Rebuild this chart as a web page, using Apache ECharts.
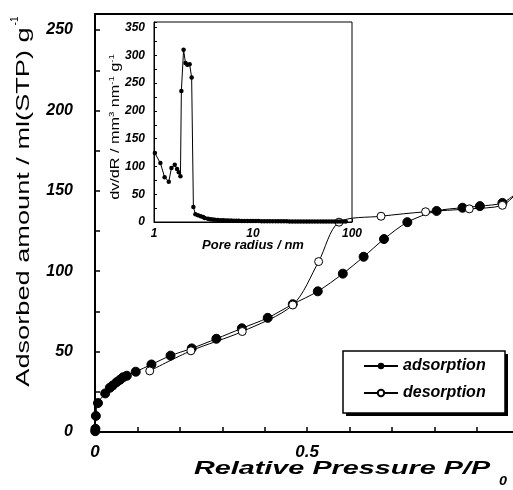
<!DOCTYPE html>
<html>
<head>
<meta charset="utf-8">
<script src="https://cdn.jsdelivr.net/npm/echarts@6/dist/echarts.min.js"></script>
<style>
  html, body { margin: 0; padding: 0; background: #fff; }
  #chart { width: 513px; height: 490px; }
</style>
</head>
<body>
<div id="chart"></div>
<script>
// isotherm (main plot)
var adsP = [0.0005, 0.001, 0.002, 0.007, 0.024, 0.035, 0.042, 0.051, 0.059, 0.066, 0.075, 0.096, 0.133, 0.178, 0.228, 0.286, 0.346, 0.407, 0.466, 0.525, 0.584, 0.633, 0.681, 0.736, 0.805, 0.866, 0.907, 0.960, 0.995];
var adsV = [0.5, 2, 10, 18, 24, 27.5, 29, 31, 32.5, 34, 35, 37.5, 42, 47.5, 52, 58, 64.5, 71, 79.5, 87.5, 98.5, 109, 120, 130.5, 137.5, 139.5, 140.5, 142.5, 149];
var desP = [0.129, 0.226, 0.347, 0.466, 0.527, 0.575, 0.674, 0.779, 0.882, 0.960, 0.995];
var desV = [38, 50.5, 62.5, 79, 106, 130.5, 134.2, 137, 138.8, 141, 149];

// pore size distribution (inset)
var poreR = [1.02, 1.16, 1.28, 1.41, 1.50, 1.62, 1.71, 1.78, 1.85, 1.89, 1.99, 2.08, 2.17, 2.29, 2.40, 2.50, 2.62, 2.78, 2.96, 3.13, 3.25, 3.51,
  3.7, 3.9, 4.1, 4.4, 4.7, 5.0, 5.3, 5.6, 6.0, 6.4, 6.8, 7.2, 7.7, 8.2, 8.8, 9.4, 10.0, 10.7, 11.4, 12.2, 13.0, 13.9, 14.8, 15.8, 16.9,
  18.0, 19.2, 20.5, 21.9, 23.4, 25.0, 26.7, 28.5, 30.4, 32.5, 34.7, 37.0, 39.5, 42.2, 45.0, 48.1, 51.3, 54.8, 58.5, 62.4, 66.6, 71.1, 75.9, 81.0, 86.5];
var dvdR = [124, 106, 80.6, 72.6, 97, 103, 95.6, 89.6, 82.4, 236, 310, 286, 283, 284, 260, 27, 14, 12, 10.4, 9, 7, 6,
  5, 4.5, 4, 3.6, 3.3, 3, 2.8, 2.6, 2.5, 2.3, 2.2, 2.1, 2, 1.9, 1.8, 1.8, 1.7, 1.6, 1.6, 1.5, 1.5, 1.4, 1.4, 1.3, 1.3,
  1.3, 1.2, 1.2, 1.2, 1.1, 1.1, 1.1, 1.0, 1.0, 1.0, 1.0, 0.9, 0.9, 0.9, 0.9, 0.8, 0.8, 0.8, 0.8, 0.8, 0.7, 0.7, 0.7, 0.7, 0.7];

var xLabels = ['0', '0.5'];
var FONT = 'Liberation Sans, Arial, sans-serif';

function pairs(xs, ys) {
  return xs.map(function (x, i) { return [x, ys[i]]; });
}

var myChart = echarts.init(document.getElementById('chart'), null, { renderer: 'canvas' });

var option = {
  animation: false,
  backgroundColor: '#fff',
  grid: [
    { left: 95, top: 14, right: 0, bottom: 58, outerBoundsMode: 'none' },
    { left: 154, top: 22, width: 198, height: 200, show: true, borderColor: '#000', borderWidth: 1, backgroundColor: 'transparent', outerBoundsMode: 'none' }
  ],
  xAxis: [
    { // main
      type: 'value', gridIndex: 0, min: 0, max: 0.985, interval: 0.1,
      axisLine: { lineStyle: { color: '#000', width: 2 } },
      axisTick: { inside: true, length: 5, lineStyle: { color: '#000', width: 1.5 } },
      splitLine: { show: false },
      axisLabel: {
        margin: 12, color: '#000', fontFamily: FONT, fontSize: 17, fontStyle: 'italic', fontWeight: 'bold',
        showMaxLabel: false,
        formatter: function (v) {
          for (var i = 0; i < xLabels.length; i++) {
            if (Math.abs(v - parseFloat(xLabels[i])) < 1e-6) return xLabels[i];
          }
          return '';
        }
      }
    },
    { // top frame line
      type: 'value', gridIndex: 0, position: 'top', min: 0, max: 0.985,
      axisLine: { lineStyle: { color: '#000', width: 2 } },
      axisTick: { show: false }, axisLabel: { show: false }, splitLine: { show: false }
    },
    { // inset
      type: 'log', gridIndex: 1, logBase: 10, min: 1, max: 100,
      axisLine: { lineStyle: { color: '#000', width: 1 } },
      axisTick: { inside: true, length: 3, lineStyle: { color: '#000' } },
      splitLine: { show: false },
      axisLabel: { margin: 6, color: '#000', fontFamily: FONT, fontSize: 12, fontStyle: 'italic', fontWeight: 'bold' }
    }
  ],
  yAxis: [
    {
      type: 'value', gridIndex: 0, min: 0, max: 260, interval: 25,
      axisLine: { show: true, lineStyle: { color: '#000', width: 2 } },
      axisTick: { show: true, inside: true, length: 5, lineStyle: { color: '#000', width: 1.5 } },
      splitLine: { show: false },
      axisLabel: {
        margin: 22, color: '#000', fontFamily: FONT, fontSize: 16, fontStyle: 'italic', fontWeight: 'bold',
        formatter: function (v) { return v % 50 === 0 ? String(v) : ''; }
      }
    },
    {
      type: 'value', gridIndex: 1, min: 0, max: 360, interval: 25,
      axisLine: { show: true, lineStyle: { color: '#000', width: 1 } },
      axisTick: { show: true, inside: true, length: 3, lineStyle: { color: '#000' } },
      splitLine: { show: false },
      axisLabel: {
        margin: 9, color: '#000', fontFamily: FONT, fontSize: 12, fontStyle: 'italic', fontWeight: 'bold',
        formatter: function (v) { return (v % 50 === 0 && v <= 350) ? String(v) : ''; }
      }
    }
  ],
  legend: {
    data: ['adsorption', 'desorption'],
    orient: 'vertical', left: 343, top: 351, z: 20,
    padding: [7, 16, 9, 20],
    itemGap: 11, itemWidth: 34, itemHeight: 8,
    textStyle: { color: '#000', fontFamily: FONT, fontSize: 16, fontStyle: 'italic', fontWeight: 'bold' }
  },
  series: [
    {
      name: 'adsorption', type: 'line', xAxisIndex: 0, yAxisIndex: 0,
      data: pairs(adsP, adsV), smooth: 0.3, clip: true,
      symbol: 'circle', symbolSize: 9,
      lineStyle: { color: '#000', width: 1 },
      itemStyle: { color: '#000', borderColor: '#000' }
    },
    {
      name: 'desorption', type: 'line', xAxisIndex: 0, yAxisIndex: 0,
      data: pairs(desP, desV), smooth: 0.3, clip: true,
      symbol: 'circle', symbolSize: 8,
      lineStyle: { color: '#000', width: 1 },
      itemStyle: { color: '#fff', borderColor: '#000', borderWidth: 1 }
    },
    {
      name: 'psd', type: 'line', xAxisIndex: 2, yAxisIndex: 1,
      data: pairs(poreR, dvdR), clip: true,
      symbol: 'circle', symbolSize: 4.5,
      lineStyle: { color: '#000', width: 1 },
      itemStyle: { color: '#000' }
    }
  ],
  graphic: [
    // legend frame with hard drop shadow
    { type: 'rect', shape: { x: 346, y: 354, width: 162, height: 62 }, style: { fill: '#000' }, z: 3 },
    { type: 'rect', shape: { x: 343, y: 351, width: 162, height: 62 }, style: { fill: '#fff', stroke: '#000', lineWidth: 1.5 }, z: 3 },
    {
      type: 'text', x: 342, y: 469, scaleX: 1.6,
      style: { text: 'Relative Pressure P/P', fill: '#000', fontFamily: FONT, fontSize: 18, fontStyle: 'italic', fontWeight: 'bold', align: 'center', verticalAlign: 'middle' }
    },
    {
      type: 'text', x: 503, y: 482, scaleX: 1.2,
      style: { text: '0', fill: '#000', fontFamily: FONT, fontSize: 12, fontStyle: 'italic', fontWeight: 'bold', align: 'center', verticalAlign: 'middle' }
    },
    {
      type: 'text', x: 24, y: 207, rotation: Math.PI / 2, scaleX: 1.43,
      style: { text: 'Adsorbed amount / ml(STP) g', fill: '#000', fontFamily: FONT, fontSize: 19, fontWeight: 'normal', align: 'center', verticalAlign: 'middle' }
    },
    {
      type: 'text', x: 15, y: 21, rotation: Math.PI / 2,
      style: { text: '-1', fill: '#000', fontFamily: FONT, fontSize: 10, align: 'center', verticalAlign: 'middle' }
    },
    {
      type: 'text', x: 115, y: 127, rotation: Math.PI / 2, scaleX: 1.2,
      style: {
        text: 'dv/dR / mm{s|3} nm{s|-1} g{s|-1}', fill: '#000', fontFamily: FONT, fontSize: 13.5,
        align: 'center', verticalAlign: 'middle',
        rich: { s: { fontSize: 8, fontFamily: FONT, fill: '#000', verticalAlign: 'top' } }
      }
    },
    {
      type: 'text', x: 253, y: 245,
      style: { text: 'Pore radius / nm', fill: '#000', fontFamily: FONT, fontSize: 13, fontStyle: 'italic', fontWeight: 'bold', align: 'center', verticalAlign: 'middle' }
    }
  ]
};

myChart.setOption(option);
</script>
</body>
</html>
